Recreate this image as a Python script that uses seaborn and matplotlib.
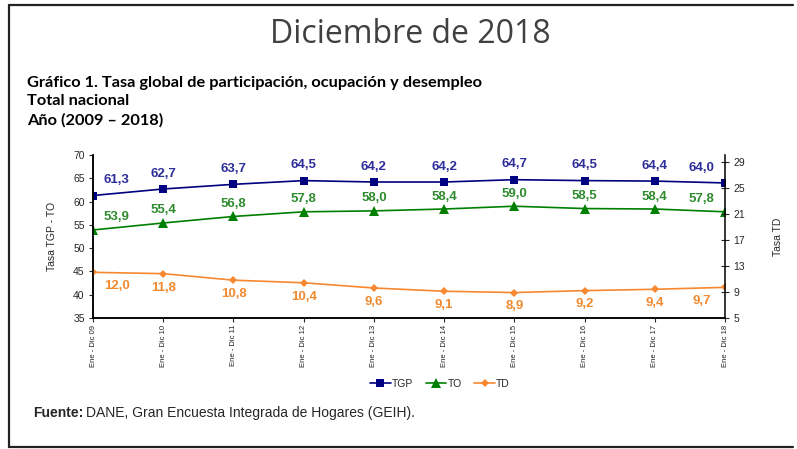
import matplotlib
matplotlib.use("Agg")
import matplotlib.pyplot as plt
from matplotlib.lines import Line2D
from matplotlib.transforms import offset_copy
import seaborn as sns
import pandas as pd

# Series values
periodos = ["Ene - Dic 09", "Ene - Dic 10", "Ene - Dic 11", "Ene - Dic 12", "Ene - Dic 13",
            "Ene - Dic 14", "Ene - Dic 15", "Ene - Dic 16", "Ene - Dic 17", "Ene - Dic 18"]
tgp = [61.3, 62.7, 63.7, 64.5, 64.2, 64.2, 64.7, 64.5, 64.4, 64.0]
to = [53.9, 55.4, 56.8, 57.8, 58.0, 58.4, 59.0, 58.5, 58.4, 57.8]
td = [12.0, 11.8, 10.8, 10.4, 9.6, 9.1, 8.9, 9.2, 9.4, 9.7]

df = pd.DataFrame({"idx": range(len(periodos)), "TGP": tgp, "TO": to, "TD": td})

sns.set_style("white")
plt.rcParams["font.family"] = ["Liberation Sans", "DejaVu Sans"]

c_tgp, c_to, c_td = "#000080", "#008000", "#F7882F"
lc_tgp, lc_to, lc_td = "#2E2E9A", "#2E8B2E", "#F08A30"

fig = plt.figure(figsize=(7.97, 4.49), dpi=100)
ax = fig.add_axes([0.1167, 0.2918, 0.793, 0.363])
ax2 = ax.twinx()

sns.lineplot(data=df, x="idx", y="TGP", ax=ax, color=c_tgp, marker="s", markersize=6,
             markeredgewidth=0, linewidth=1.2, label="TGP", legend=False)
sns.lineplot(data=df, x="idx", y="TO", ax=ax, color=c_to, marker="^", markersize=7,
             markeredgewidth=0, linewidth=1.2, label="TO", legend=False)
sns.lineplot(data=df, x="idx", y="TD", ax=ax2, color=c_td, marker="D", markersize=4,
             markeredgewidth=0, linewidth=1.2, label="TD", legend=False)

ax.set_xlim(0, len(periodos) - 1)
ax.set_ylim(35, 70)
ax.set_yticks(range(35, 71, 5))
ax2.set_ylim(5, 30)
ax2.set_yticks(range(5, 30, 4))

ax.set_xticks(df["idx"])
ax.set_xticklabels(periodos, rotation=90, fontsize=5.5, color="#222222")
ax.tick_params(axis="x", direction="out", length=3, width=0.8, pad=2, bottom=True)
ax.tick_params(axis="y", direction="out", length=3, width=0.8, labelsize=7.5, left=True, pad=3)
ax2.tick_params(axis="y", direction="inout", length=6, width=0.8, labelsize=7.5, right=True, pad=3)

ax.set_xlabel("")
ax.set_ylabel("Tasa TGP - TO", fontsize=7.5, labelpad=12)
ax2.set_ylabel("Tasa TD", fontsize=7.5, labelpad=20)

for a in (ax, ax2):
    a.spines["top"].set_visible(False)
    for s in ("left", "right", "bottom"):
        a.spines[s].set_color("black")
        a.spines[s].set_linewidth(1.1)
ax.spines["right"].set_visible(False)


def fmt(v):
    return f"{v:.1f}".replace(".", ",")


n = len(periodos)
for i in range(n):
    dx = 17 if i == 0 else (-17 if i == n - 1 else 0)
    ax.annotate(fmt(tgp[i]), (i, tgp[i]), xytext=(dx, 11), textcoords="offset points",
                ha="center", va="center", fontsize=9.5, fontweight="bold", color=lc_tgp)
    ax.annotate(fmt(to[i]), (i, to[i]), xytext=(dx, 9), textcoords="offset points",
                ha="center", va="center", fontsize=9.5, fontweight="bold", color=lc_to)
    ax2.annotate(fmt(td[i]), (i, td[i]), xytext=(dx, -10), textcoords="offset points",
                 ha="center", va="center", fontsize=9.5, fontweight="bold", color=lc_td)

handles = ax.get_lines()[:2] + ax2.get_lines()[:1]
fig.legend(handles, ["TGP", "TO", "TD"], loc="center", bbox_to_anchor=(0.552, 0.145),
           ncol=3, frameon=False, fontsize=7.5, handlelength=2.0, handletextpad=0.1,
           columnspacing=1.2)

# Titles
fig.text(0.515, 0.923, "Diciembre de 2018", ha="center", va="center", fontsize=23,
         color="#404040", family=["Open Sans", "DejaVu Sans"])
for y, t in [(0.815, "Gráfico 1. Tasa global de participación, ocupación y desempleo"),
             (0.775, "Total nacional"), (0.733, "Año (2009 – 2018)")]:
    fig.text(0.034, y, t, ha="left", va="center", fontsize=11.8, fontweight="bold",
             color="black", family=["Lato", "DejaVu Sans"])

fuente = fig.text(0.041, 0.08, "Fuente:", ha="left", va="center", fontsize=10,
                  fontweight="bold")
fig.canvas.draw()
w = fuente.get_window_extent().width
fig.text(0.041, 0.08, "DANE, Gran Encuesta Integrada de Hogares (GEIH).", ha="left",
         va="center", fontsize=10,
         transform=offset_copy(fig.transFigure, fig=fig, x=w + 3, units="dots"))

# Outer frame
frame_kw = dict(transform=fig.transFigure, color="#222222", linewidth=1.6)
fig.add_artist(Line2D([0.011, 0.011], [0.004, 0.989], **frame_kw))
fig.add_artist(Line2D([0.011, 0.995], [0.989, 0.989], **frame_kw))
fig.add_artist(Line2D([0.011, 0.995], [0.004, 0.004], **frame_kw))

fig.savefig("out.png", dpi=100)
